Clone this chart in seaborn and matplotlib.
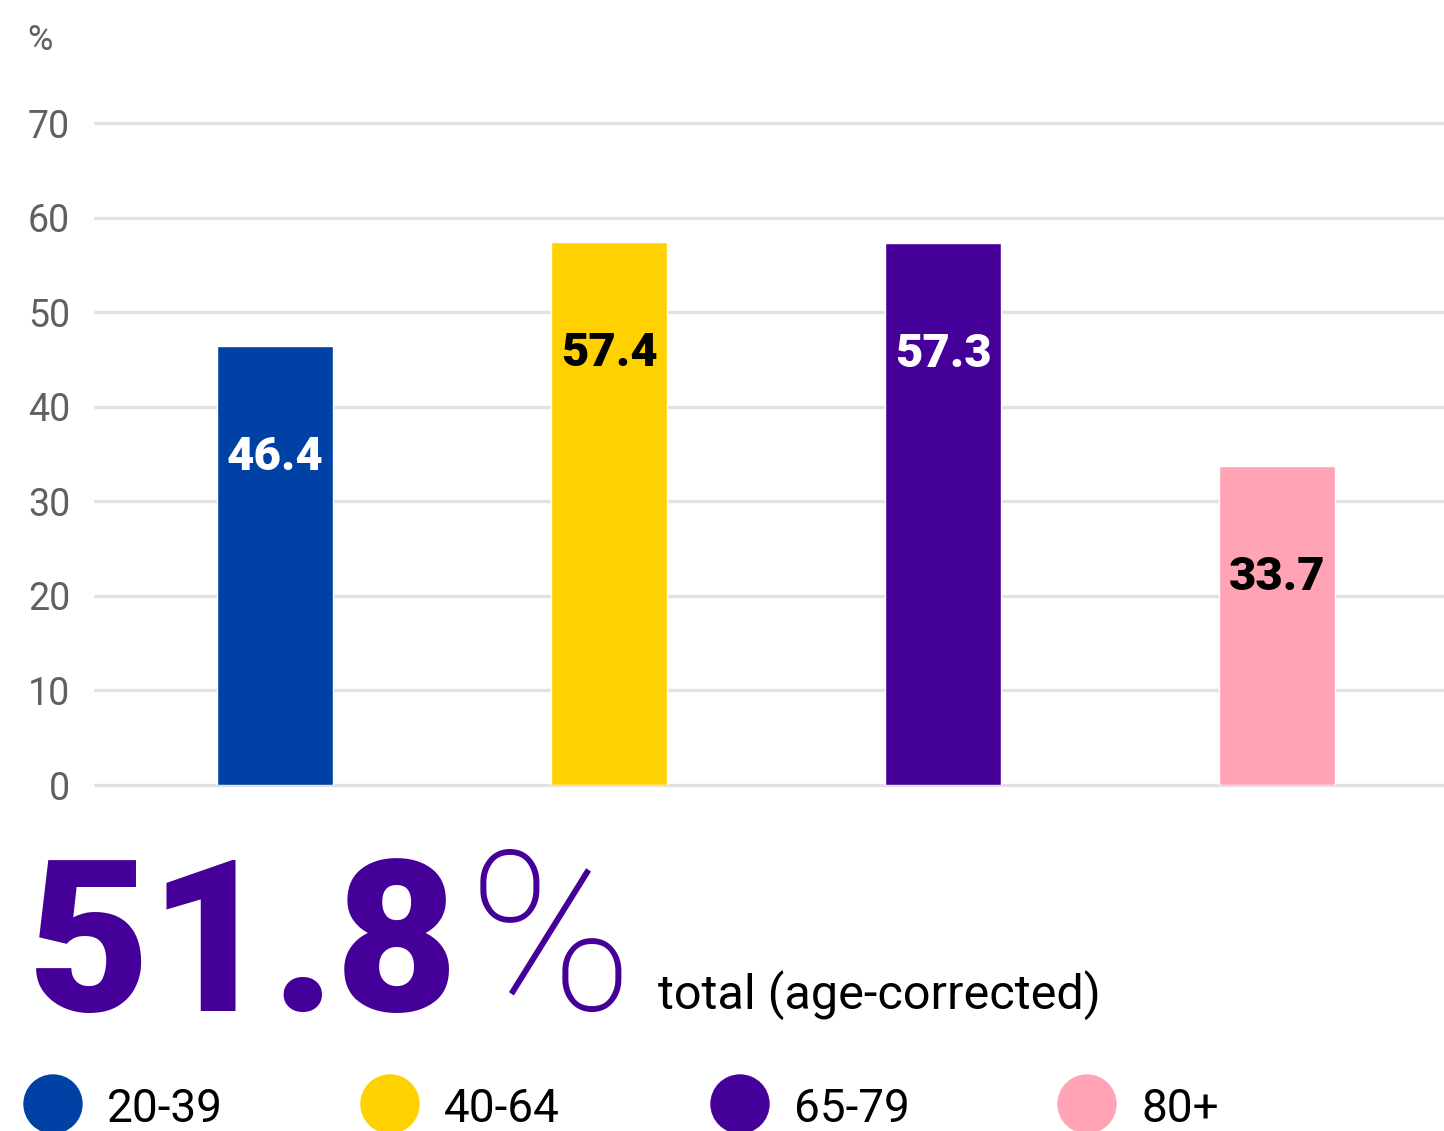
import matplotlib
matplotlib.use("Agg")
import matplotlib.pyplot as plt
from matplotlib.patches import Ellipse
import seaborn as sns

# Data
AGE_GROUPS = ["20-39", "40-64", "65-79", "80+"]
SHARE = [46.4, 57.4, 57.3, 33.7]
COLORS = ["#0041a6", "#ffd100", "#450099", "#ffa3b5"]
LABEL_COLORS = ["white", "black", "white", "black"]
Y_TICKS = [0, 10, 20, 30, 40, 50, 60, 70]
TOTAL_VALUE = "51.8"
TOTAL_NOTE = "total (age-corrected)"

W, H = 1444, 1131
sns.set_theme(style="white")
plt.rcParams["font.family"] = ["Roboto", "DejaVu Sans"]

fig = plt.figure(figsize=(W / 100, H / 100), dpi=100)
ax = fig.add_axes([95 / W, (H - 785) / H, 1 - 95 / W, (785 - 113.6) / H])

sns.barplot(x=AGE_GROUPS, y=SHARE, hue=AGE_GROUPS, palette=COLORS,
            legend=False, width=0.35, saturation=1, ax=ax, zorder=3)

ax.set_xlim(-0.539, 3.5)
ax.set_ylim(0, 71)
ax.set_yticks(Y_TICKS)
ax.set_yticklabels([str(t) for t in Y_TICKS], fontsize=27, color="#606060")
ax.set_xticks([])
ax.set_xlabel("")
ax.set_ylabel("")
ax.tick_params(axis="y", length=0, pad=18)
ax.yaxis.grid(True, color="#e2e2e2", linewidth=2.4, zorder=0)
for gl in ax.get_ygridlines():
    gl.set_clip_on(False)
ax.set_axisbelow(True)
for sp in ax.spines.values():
    sp.set_visible(False)

for i, (v, c) in enumerate(zip(SHARE, LABEL_COLORS)):
    ax.annotate(f"{v}", xy=(i, v), xytext=(0, -80), textcoords="offset points",
                ha="center", va="center", fontsize=34, fontweight=900, color=c)

fig.text(27 / W, 1 - 40 / H, "%", fontsize=25, color="#606060", va="center")

# big total
fig.text(28 / W, (H - 1011) / H, TOTAL_VALUE, fontsize=152, fontweight=900,
         color="#450099", va="baseline", ha="left")
fig.text(468 / W, (H - 1010) / H, "%", fontsize=160, fontweight=100,
         color="#450099", va="baseline", ha="left")
fig.text(658 / W, (H - 1009) / H, TOTAL_NOTE, fontsize=35, color="black",
         va="baseline", ha="left")

# legend
circle_x = [53, 390, 740, 1087]
for cx, name, col in zip(circle_x, AGE_GROUPS, COLORS):
    fig.add_artist(Ellipse((cx / W, (H - 1104) / H), 58 / W, 58 / H,
                           transform=fig.transFigure, color=col))
    fig.text((cx + 54) / W, (H - 1122) / H, name, fontsize=33, color="black",
             va="baseline", ha="left")

fig.savefig("out.png", dpi=100)
